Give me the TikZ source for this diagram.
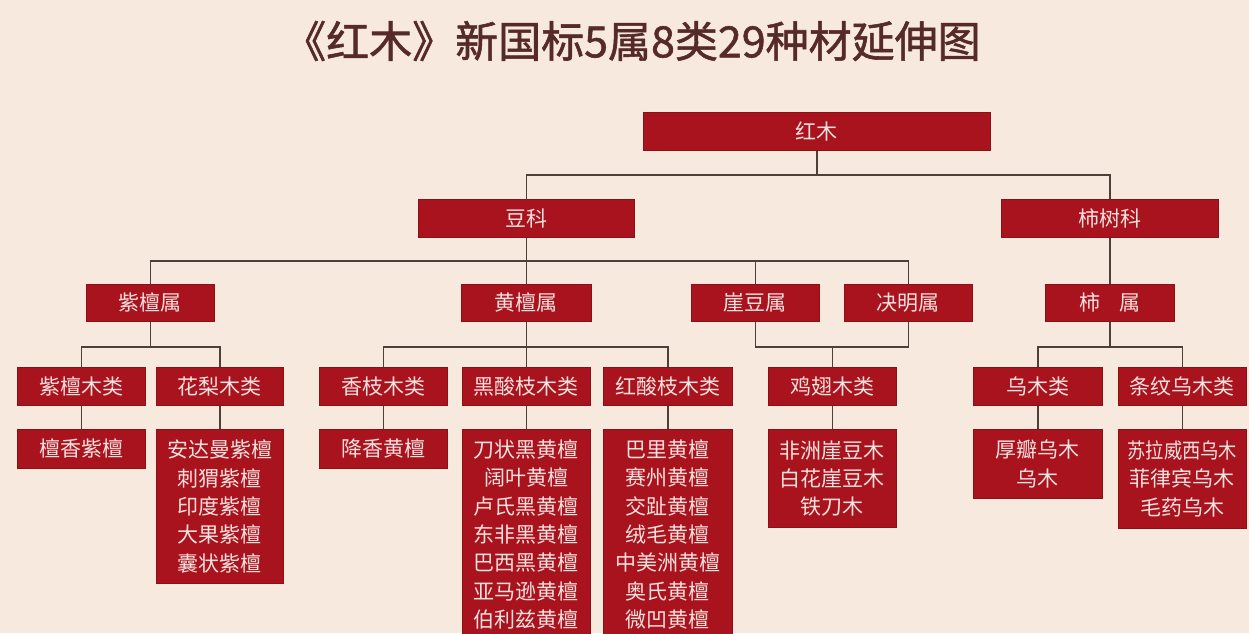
\documentclass[tikz,border=0pt]{standalone}
\usepackage{fontspec}
\setmainfont{Noto Sans CJK SC}
\newfontfamily\titlefont[FakeBold=1.3]{Noto Sans CJK SC}
\definecolor{bg}{HTML}{F8E9DF}
\definecolor{boxred}{HTML}{A9131D}
\definecolor{boxedge}{HTML}{8E1017}
\definecolor{boxtext}{HTML}{F6E1DF}
\definecolor{linecol}{HTML}{4E4038}
\definecolor{titlecol}{HTML}{552A28}
\tikzset{
  box/.style={draw=boxedge, line width=0.8pt, fill=boxred, text=boxtext,
    font=\fontsize{21}{28.3}\selectfont, inner sep=0pt, align=center,
    anchor=north west},
  conn/.style={draw=linecol, line width=1.6pt}
}
\begin{document}
\begin{tikzpicture}[x=1pt,y=-1pt]
\useasboundingbox (0,0) rectangle (1249,633);
\clip (0,0) rectangle (1249,633);
\fill[bg] (0,0) rectangle (1249,633);

\node[anchor=west, inner sep=0pt, font=\titlefont\fontsize{43}{43}\selectfont, text=titlecol] (title) at (283,41) {《红木》新国标5属8类29种材延伸图};

% level 0-1
\node[box, minimum width=347pt, minimum height=38pt] (hm) at (643,112) {红木};
\node[box, minimum width=216pt, minimum height=38pt] (dk) at (418,199) {豆科};
\node[box, minimum width=217pt, minimum height=38pt] (ssk) at (1001,199) {柿树科};
% genus
\node[box, minimum width=128pt, minimum height=37pt] (ztsh) at (86,284) {紫檀属};
\node[box, minimum width=130pt, minimum height=37pt] (htsh) at (461,284) {黄檀属};
\node[box, minimum width=128pt, minimum height=37pt] (ydsh) at (691,284) {崖豆属};
\node[box, minimum width=128pt, minimum height=37pt] (jmsh) at (844,284) {决明属};
\node[box, minimum width=129pt, minimum height=37pt] (ssh) at (1045,284) {柿\hspace{0.9em}属};
% classes
\node[box, minimum width=128pt, minimum height=38pt] (ztml) at (17,367) {紫檀木类};
\node[box, minimum width=127pt, minimum height=38pt] (hlml) at (156,367) {花梨木类};
\node[box, minimum width=128pt, minimum height=38pt] (xzml) at (319,367) {香枝木类};
\node[box, minimum width=128pt, minimum height=38pt] (hsz) at (462,367) {黑酸枝木类};
\node[box, minimum width=129pt, minimum height=38pt] (hongsz) at (603,367) {红酸枝木类};
\node[box, minimum width=128pt, minimum height=38pt] (jcml) at (768,367) {鸡翅木类};
\node[box, minimum width=129pt, minimum height=38pt] (wml) at (973,367) {乌木类};
\node[box, minimum width=128pt, minimum height=38pt] (twwm) at (1118,367) {条纹乌木类};
% species
\node[box, minimum width=128pt, minimum height=39pt] (l1) at (17,429) {檀香紫檀};
\node[box, minimum width=127pt, minimum height=154pt] (l2) at (156,429) {安达曼紫檀\\刺猬紫檀\\印度紫檀\\大果紫檀\\囊状紫檀};
\node[box, minimum width=128pt, minimum height=39pt] (l3) at (319,429) {降香黄檀};
\node[box, minimum width=128pt, minimum height=210pt] (l4) at (462,429) {刀状黑黄檀\\阔叶黄檀\\卢氏黑黄檀\\东非黑黄檀\\巴西黑黄檀\\亚马逊黄檀\\伯利兹黄檀};
\node[box, minimum width=129pt, minimum height=210pt] (l5) at (603,429) {巴里黄檀\\赛州黄檀\\交趾黄檀\\绒毛黄檀\\中美洲黄檀\\奥氏黄檀\\微凹黄檀};
\node[box, minimum width=128pt, minimum height=98pt] (l6) at (768,429) {非洲崖豆木\\白花崖豆木\\铁刀木};
\node[box, minimum width=129pt, minimum height=69pt] (l7) at (973,429) {厚瓣乌木\\乌木};
\node[box, minimum width=128pt, minimum height=99pt] (l8) at (1118,429) {\scalebox{0.87}[1]{苏拉威西乌木}\\菲律宾乌木\\毛药乌木};

% connectors
\draw[conn] (hm.south) -- ++(0,24) coordinate (hmb);
\draw[conn] (hmb) -| (dk.north);
\draw[conn] (hmb) -| (ssk.north);

\draw[conn] (dk.south) -- ++(0,23) coordinate (dkb);
\draw[conn] (dkb) -| (ztsh.north);
\draw[conn] (dkb) -- (htsh.north);
\draw[conn] (dkb) -| (ydsh.north);
\draw[conn] (dkb) -| (jmsh.north);

\draw[conn] (ssk.south) -- (ssh.north);

\draw[conn] (ztsh.south) -- ++(0,25) coordinate (ztb);
\draw[conn] (ztb) -| (ztml.north);
\draw[conn] (ztb) -| (hlml.north);

\draw[conn] (htsh.south) -- ++(0,25) coordinate (htb);
\draw[conn] (htb) -| (xzml.north);
\draw[conn] (htb) -- (hsz.north);
\draw[conn] (htb) -| (hongsz.north);

\draw[conn] (ydsh.south) -- ++(0,25) coordinate (ydb) -| (jmsh.south);
\draw[conn] (jcml.north) -- (jcml.north |- ydb);

\draw[conn] (ssh.south) -- ++(0,25) coordinate (ssb);
\draw[conn] (ssb) -| (wml.north);
\draw[conn] (ssb) -| (twwm.north);

\draw[conn] (ztml.south) -- (l1.north);
\draw[conn] (hlml.south) -- (l2.north);
\draw[conn] (xzml.south) -- (l3.north);
\draw[conn] (hsz.south) -- (l4.north);
\draw[conn] (hongsz.south) -- (l5.north);
\draw[conn] (jcml.south) -- (l6.north);
\draw[conn] (wml.south) -- (l7.north);
\draw[conn] (twwm.south) -- (l8.north);
\end{tikzpicture}
\end{document}
